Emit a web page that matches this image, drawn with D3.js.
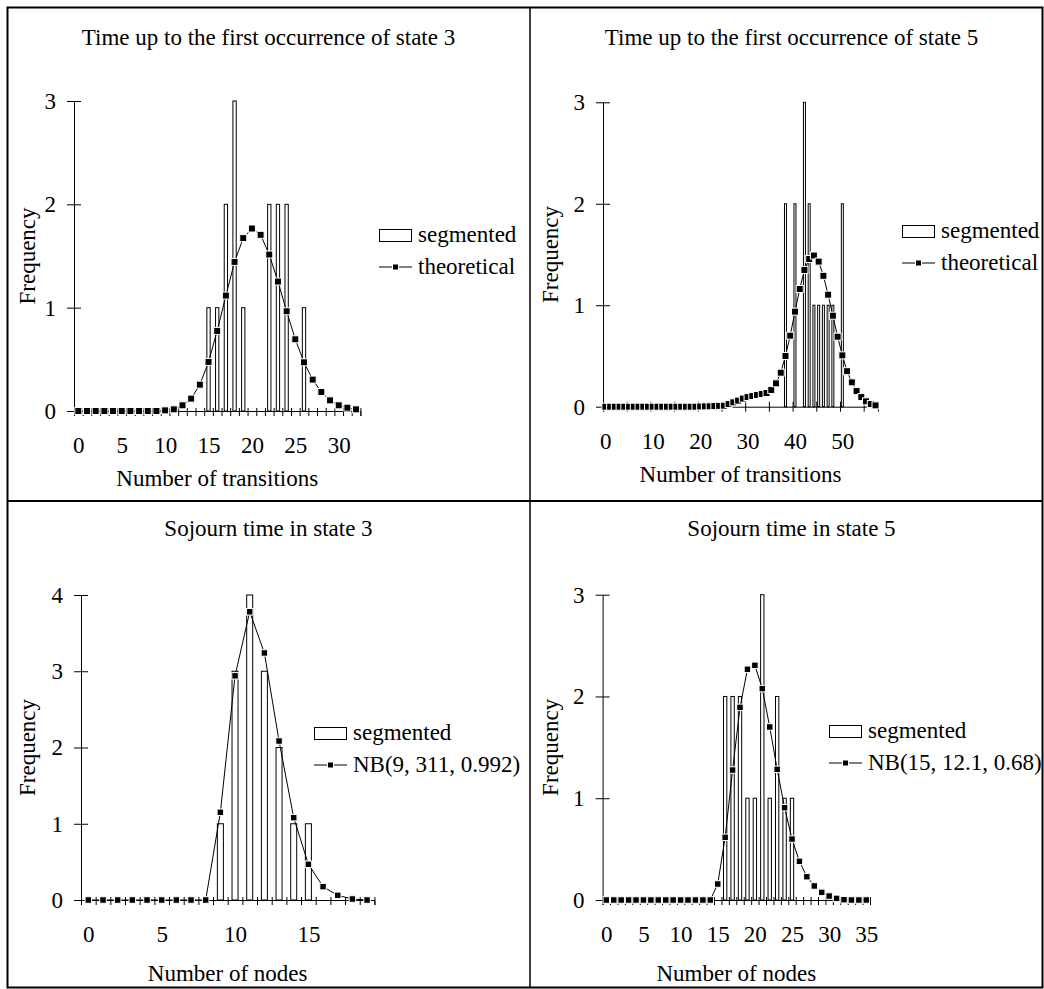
<!DOCTYPE html>
<html>
<head>
<meta charset="utf-8">
<script src="https://cdn.jsdelivr.net/npm/d3@7"></script>
<style>
  body { margin: 0; background: #fff; }
  svg { display: block; }
  text { font-family: "Liberation Serif", "Times New Roman", serif; font-size: 23px; fill: #000; }
</style>
</head>
<body>
<svg width="1044" height="989"></svg>
<script>
// --- data ---
// top-left: time up to first occurrence of state 3
const segX1 = [15, 16, 17, 18, 19, 22, 23, 24, 26];
const segN1 = [1, 1, 2, 3, 1, 2, 2, 2, 1];
const theo1 = [0, 0, 0, 0, 0, 0, 0, 0, 0, 0, 0.006, 0.016, 0.055, 0.12, 0.255, 0.475, 0.775,
  1.117, 1.443, 1.673, 1.766, 1.705, 1.514, 1.253, 0.965, 0.694, 0.471, 0.304, 0.184, 0.103,
  0.055, 0.032, 0.016];
const xTicks1 = [0, 5, 10, 15, 20, 25, 30];
const yTicks1 = [0, 1, 2, 3];

// top-right: time up to first occurrence of state 5
const segX2 = [38, 40, 42, 43, 44, 45, 46, 47, 48, 50];
const segN2 = [2, 2, 3, 2, 1, 1, 1, 1, 1, 2];
const theo2 = [0, 0, 0, 0, 0, 0, 0, 0, 0, 0, 0, 0, 0, 0, 0, 0, 0, 0, 0, 0,
  0.002, 0.003, 0.004, 0.006, 0.008, 0.01, 0.026, 0.043, 0.06, 0.08, 0.095, 0.105, 0.115,
  0.125, 0.135, 0.165, 0.23, 0.335, 0.5, 0.7, 0.937, 1.16, 1.347, 1.456, 1.49, 1.43, 1.29,
  1.104, 0.897, 0.69, 0.506, 0.35, 0.24, 0.154, 0.095, 0.053, 0.026, 0.013];
const xTicks2 = [0, 10, 20, 30, 40, 50];
const yTicks2 = [0, 1, 2, 3];

// bottom-left: sojourn time in state 3
const segX3 = [9, 10, 11, 12, 13, 14, 15];
const segN3 = [1, 3, 4, 3, 2, 1, 1];
const theo3 = [0, 0, 0, 0, 0, 0, 0, 0, 0, 1.15, 2.94, 3.78, 3.24, 2.085, 1.08, 0.468, 0.175,
  0.061, 0.013, 0];
const xTicks3 = [0, 5, 10, 15];
const yTicks3 = [0, 1, 2, 3, 4];

// bottom-right: sojourn time in state 5
const segX4 = [16, 17, 18, 19, 20, 21, 22, 23, 24, 25];
const segN4 = [2, 2, 2, 1, 1, 3, 1, 2, 1, 1];
const theo4 = [0, 0, 0, 0, 0, 0, 0, 0, 0, 0, 0, 0, 0, 0, 0, 0.157, 0.616, 1.277, 1.893, 2.267,
  2.306, 2.077, 1.7, 1.284, 0.907, 0.599, 0.38, 0.229, 0.138, 0.075, 0.039, 0.016, 0.003, 0, 0, 0];
const xTicks4 = [0, 5, 10, 15, 20, 25, 30, 35];
const yTicks4 = [0, 1, 2, 3];

const titles = ["Time up to the first occurrence of state 3", "Time up to the first occurrence of state 5",
  "Sojourn time in state 3", "Sojourn time in state 5"];
const xLabels = ["Number of transitions", "Number of transitions", "Number of nodes", "Number of nodes"];
const legendLabels = [["segmented", "theoretical"], ["segmented", "theoretical"],
  ["segmented", "NB(9, 311, 0.992)"], ["segmented", "NB(15, 12.1, 0.68)"]];

// --- layout of each panel (pixels) ---
const panels = [
  { segX: segX1, segN: segN1, theo: theo1, xTicks: xTicks1, yTicks: yTicks1, edgeStep: 1,
    left: 7, titleY: 45, ax0: 74, ax1: 360.4, y0: 411, y1: 101, xLabDy: 75,
    barFrac: 0.38, ms: 7, lx: 379, ly: 229 },
  { segX: segX2, segN: segN2, theo: theo2, xTicks: xTicks2, yTicks: yTicks2, edgeStep: 5,
    left: 530, titleY: 45, ax0: 603, ax1: 877.9, y0: 406.7, y1: 102.3, xLabDy: 75,
    barFrac: 0.42, ms: 7, lx: 902, ly: 225 },
  { segX: segX3, segN: segN3, theo: theo3, xTicks: xTicks3, yTicks: yTicks3, edgeStep: 1,
    left: 7, titleY: 536, ax0: 81, ax1: 374.4, y0: 900, y1: 595, xLabDy: 81,
    barFrac: 0.41, ms: 6.5, lx: 314, ly: 727 },
  { segX: segX4, segN: segN4, theo: theo4, xTicks: xTicks4, yTicks: yTicks4, edgeStep: 1,
    left: 530, titleY: 536, ax0: 602.6, ax1: 870, y0: 900, y1: 594.7, xLabDy: 81,
    barFrac: 0.45, ms: 6.5, lx: 829, ly: 725 }
];
const panelW = 523;

const svg = d3.select("svg");

// frame
svg.append("rect").attr("x", 7.5).attr("y", 7.5).attr("width", 1035).attr("height", 980)
  .attr("fill", "none").attr("stroke", "#000").attr("stroke-width", 2);
svg.append("line").attr("x1", 530).attr("x2", 530).attr("y1", 7).attr("y2", 988)
  .attr("stroke", "#000").attr("stroke-width", 1.5);
svg.append("line").attr("x1", 7).attr("x2", 1043).attr("y1", 501).attr("y2", 501)
  .attr("stroke", "#000").attr("stroke-width", 2);

function clearFont(sel) {
  sel.attr("font-family", null).attr("font-size", null);
}

panels.forEach((p, i) => {
  const n = p.theo.length;
  const x = d3.scaleLinear().domain([-0.5, n - 0.5]).range([p.ax0, p.ax1]);
  const yMax = d3.max(p.yTicks);
  const y = d3.scaleLinear().domain([0, yMax]).range([p.y0, p.y1]);
  const step = x(1) - x(0);
  const bw = step * p.barFrac;
  const g = svg.append("g");

  // title
  g.append("text").attr("x", p.left + panelW / 2).attr("y", p.titleY)
    .attr("text-anchor", "middle").text(titles[i]);

  // y label
  g.append("text")
    .attr("transform", `translate(${p.left + 28},${(p.y0 + p.y1) / 2}) rotate(-90)`)
    .attr("text-anchor", "middle").text("Frequency");

  // bars
  g.selectAll("rect.bar").data(p.segX).join("rect").attr("class", "bar")
    .attr("x", (d) => x(d) - bw / 2)
    .attr("y", (d, j) => y(p.segN[j]))
    .attr("width", bw)
    .attr("height", (d, j) => y(0) - y(p.segN[j]))
    .attr("fill", "#fff").attr("stroke", "#000").attr("stroke-width", 1);

  // x axis with bin-edge ticks
  const edges = d3.range(-0.5, n, p.edgeStep);
  const xAxis = g.append("g").attr("transform", `translate(0,${p.y0})`)
    .call(d3.axisBottom(x).tickValues(edges).tickFormat("").tickSizeOuter(0).tickSize(5));
  xAxis.selectAll(".tick line").attr("y1", p.edgeStep === 5 ? -5 : -3);
  clearFont(xAxis);

  const xLab = g.append("g").attr("transform", `translate(0,${p.y0})`)
    .call(d3.axisBottom(x).tickValues(p.xTicks).tickFormat(d3.format("d")).tickSize(0).tickPadding(26));
  xLab.select(".domain").remove();
  clearFont(xLab);

  // y axis
  const yAxis = g.append("g").attr("transform", `translate(${p.ax0},0)`)
    .call(d3.axisLeft(y).tickValues(p.yTicks).tickFormat(d3.format("d")).tickSize(7).tickSizeOuter(0).tickPadding(11));
  yAxis.selectAll(".tick line").attr("x1", 7);
  clearFont(yAxis);

  // x label
  g.append("text").attr("x", (p.ax0 + p.ax1) / 2).attr("y", p.y0 + p.xLabDy)
    .attr("text-anchor", "middle").text(xLabels[i]);

  // theoretical line + markers
  const line = d3.line().x((d, j) => x(j)).y((d) => y(d));
  g.append("path").datum(p.theo).attr("d", line)
    .attr("fill", "none").attr("stroke", "#000").attr("stroke-width", 1);
  g.selectAll("rect.mk").data(p.theo).join("rect").attr("class", "mk")
    .attr("x", (d, j) => x(j) - p.ms / 2).attr("y", (d) => y(d) - p.ms / 2)
    .attr("width", p.ms).attr("height", p.ms)
    .attr("fill", "#000").attr("stroke", "#fff").attr("stroke-width", 1);

  // legend
  const lg = g.append("g").attr("transform", `translate(${p.lx},${p.ly})`);
  lg.append("rect").attr("x", 0.5).attr("y", 0.5).attr("width", 32).attr("height", 12)
    .attr("fill", "#fff").attr("stroke", "#000").attr("stroke-width", 1);
  lg.append("text").attr("x", 39).attr("y", 13).text(legendLabels[i][0]);
  lg.append("line").attr("x1", 0).attr("x2", 33).attr("y1", 38).attr("y2", 38)
    .attr("stroke", "#000").attr("stroke-width", 1);
  lg.append("rect").attr("x", 13.5).attr("y", 35).attr("width", 6).attr("height", 6)
    .attr("fill", "#000").attr("stroke", "#fff").attr("stroke-width", 1);
  lg.append("text").attr("x", 39).attr("y", 45).text(legendLabels[i][1]);
});
</script>
</body>
</html>
